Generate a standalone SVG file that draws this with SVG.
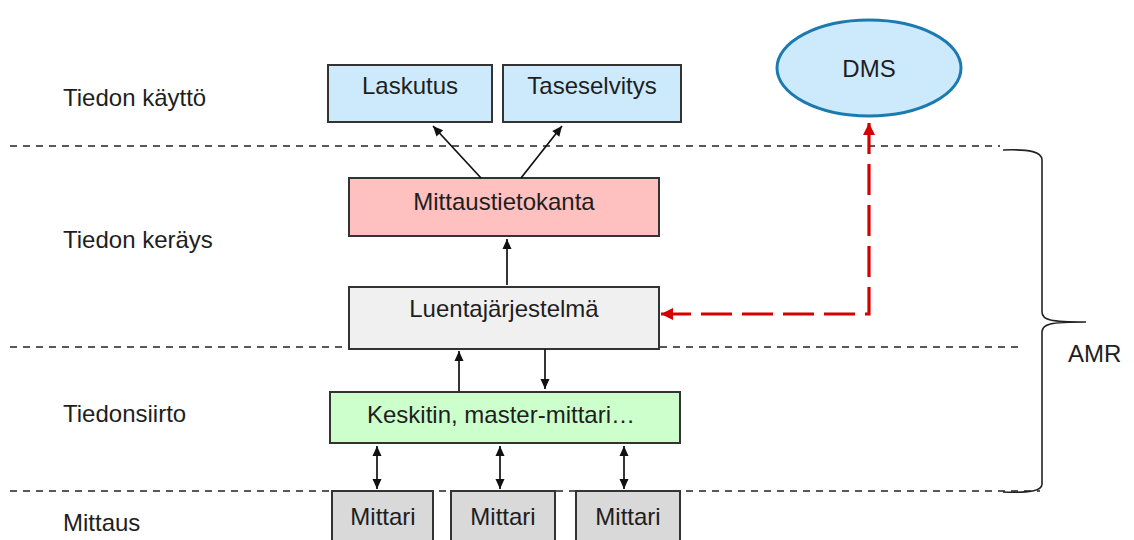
<svg xmlns="http://www.w3.org/2000/svg" width="1134" height="540" viewBox="0 0 1134 540">
<style>
text{font-family:"Liberation Sans",Arial,sans-serif;font-size:24px;fill:#1e1e1e;}
.c{text-anchor:middle;}
.box{stroke:#333;stroke-width:2;}
.sep{stroke:#222;stroke-width:1.5;stroke-dasharray:7 6;fill:none;}
.ar{stroke:#111;stroke-width:1.7;fill:none;}
.red{stroke:#d40000;stroke-width:3.2;fill:none;stroke-dasharray:31 10;}
</style>
<defs>
<marker id="ah" viewBox="0 0 10 10" refX="10" refY="5" markerWidth="11" markerHeight="10" markerUnits="userSpaceOnUse" orient="auto-start-reverse"><path d="M0,0.5 L10,5 L0,9.5 Z" fill="#111"/></marker>
<marker id="rh" viewBox="0 0 10 10" refX="10" refY="5" markerWidth="14" markerHeight="12" markerUnits="userSpaceOnUse" orient="auto-start-reverse"><path d="M0,0 L10,5 L0,10 Z" fill="#d40000"/></marker>
</defs>
<g id="separators">
<line class="sep" x1="10" y1="146" x2="1000" y2="146"/>
<line class="sep" x1="10" y1="347" x2="1018" y2="347"/>
<line class="sep" x1="10" y1="491" x2="1040" y2="491"/>
</g>
<g id="labels">
<text x="63" y="106">Tiedon käyttö</text>
<text x="63" y="248">Tiedon keräys</text>
<text x="63" y="422">Tiedonsiirto</text>
<text x="63" y="531">Mittaus</text>
</g>
<g id="laskutus"><rect class="box" x="328" y="65" width="164" height="57" fill="#cdeafc"/><text class="c" x="410" y="94">Laskutus</text></g>
<g id="taseselvitys"><rect class="box" x="503" y="65" width="178" height="57" fill="#cdeafc"/><text class="c" x="592" y="94">Taseselvitys</text></g>
<g id="dms"><ellipse cx="869" cy="68" rx="92" ry="48" fill="#cdeafc" stroke="#1b7bb0" stroke-width="3"/><text class="c" x="869" y="77">DMS</text></g>
<g id="mittaustietokanta"><rect class="box" x="349" y="178" width="310" height="58" fill="#ffc0c0"/><text class="c" x="504" y="210">Mittaustietokanta</text></g>
<g id="luentajarjestelma"><rect class="box" x="349" y="287" width="310" height="62" fill="#f0f0f0"/><text class="c" x="504" y="317">Luentajärjestelmä</text></g>
<g id="keskitin"><rect class="box" x="330" y="392" width="350" height="51" fill="#ccffcc"/><text class="c" x="501" y="423">Keskitin, master-mittari…</text></g>
<g id="mittari1"><rect class="box" x="332" y="491" width="101" height="60" fill="#d9d9d9"/><text class="c" x="383" y="525">Mittari</text></g>
<g id="mittari2"><rect class="box" x="451" y="491" width="104" height="60" fill="#d9d9d9"/><text class="c" x="503" y="525">Mittari</text></g>
<g id="mittari3"><rect class="box" x="576" y="491" width="104" height="60" fill="#d9d9d9"/><text class="c" x="628" y="525">Mittari</text></g>
<g id="amr"><path d="M1003,150 C1030,149 1042,152 1042,160 L1042,312 C1042,320 1050,322 1086,322 C1050,322 1042,324 1042,332 L1042,484 C1042,491 1030,493 1003,492" fill="none" stroke="#222" stroke-width="1.6"/><text x="1068" y="362">AMR</text></g>
<g id="connectors">
<line class="ar" x1="481" y1="178" x2="433" y2="126" marker-end="url(#ah)"/>
<line class="ar" x1="521" y1="178" x2="562" y2="126" marker-end="url(#ah)"/>
<line class="ar" x1="507" y1="285" x2="507" y2="239" marker-end="url(#ah)"/>
<line class="ar" x1="459" y1="391" x2="459" y2="351" marker-end="url(#ah)"/>
<line class="ar" x1="545" y1="349" x2="545" y2="389" marker-end="url(#ah)"/>
<line class="ar" x1="377" y1="446" x2="377" y2="489" marker-start="url(#ah)" marker-end="url(#ah)"/>
<line class="ar" x1="500" y1="446" x2="500" y2="489" marker-start="url(#ah)" marker-end="url(#ah)"/>
<line class="ar" x1="624" y1="446" x2="624" y2="489" marker-start="url(#ah)" marker-end="url(#ah)"/>
<path class="red" d="M869,123 L869,314 L661,314" marker-start="url(#rh)" marker-end="url(#rh)"/>
</g>
</svg>
